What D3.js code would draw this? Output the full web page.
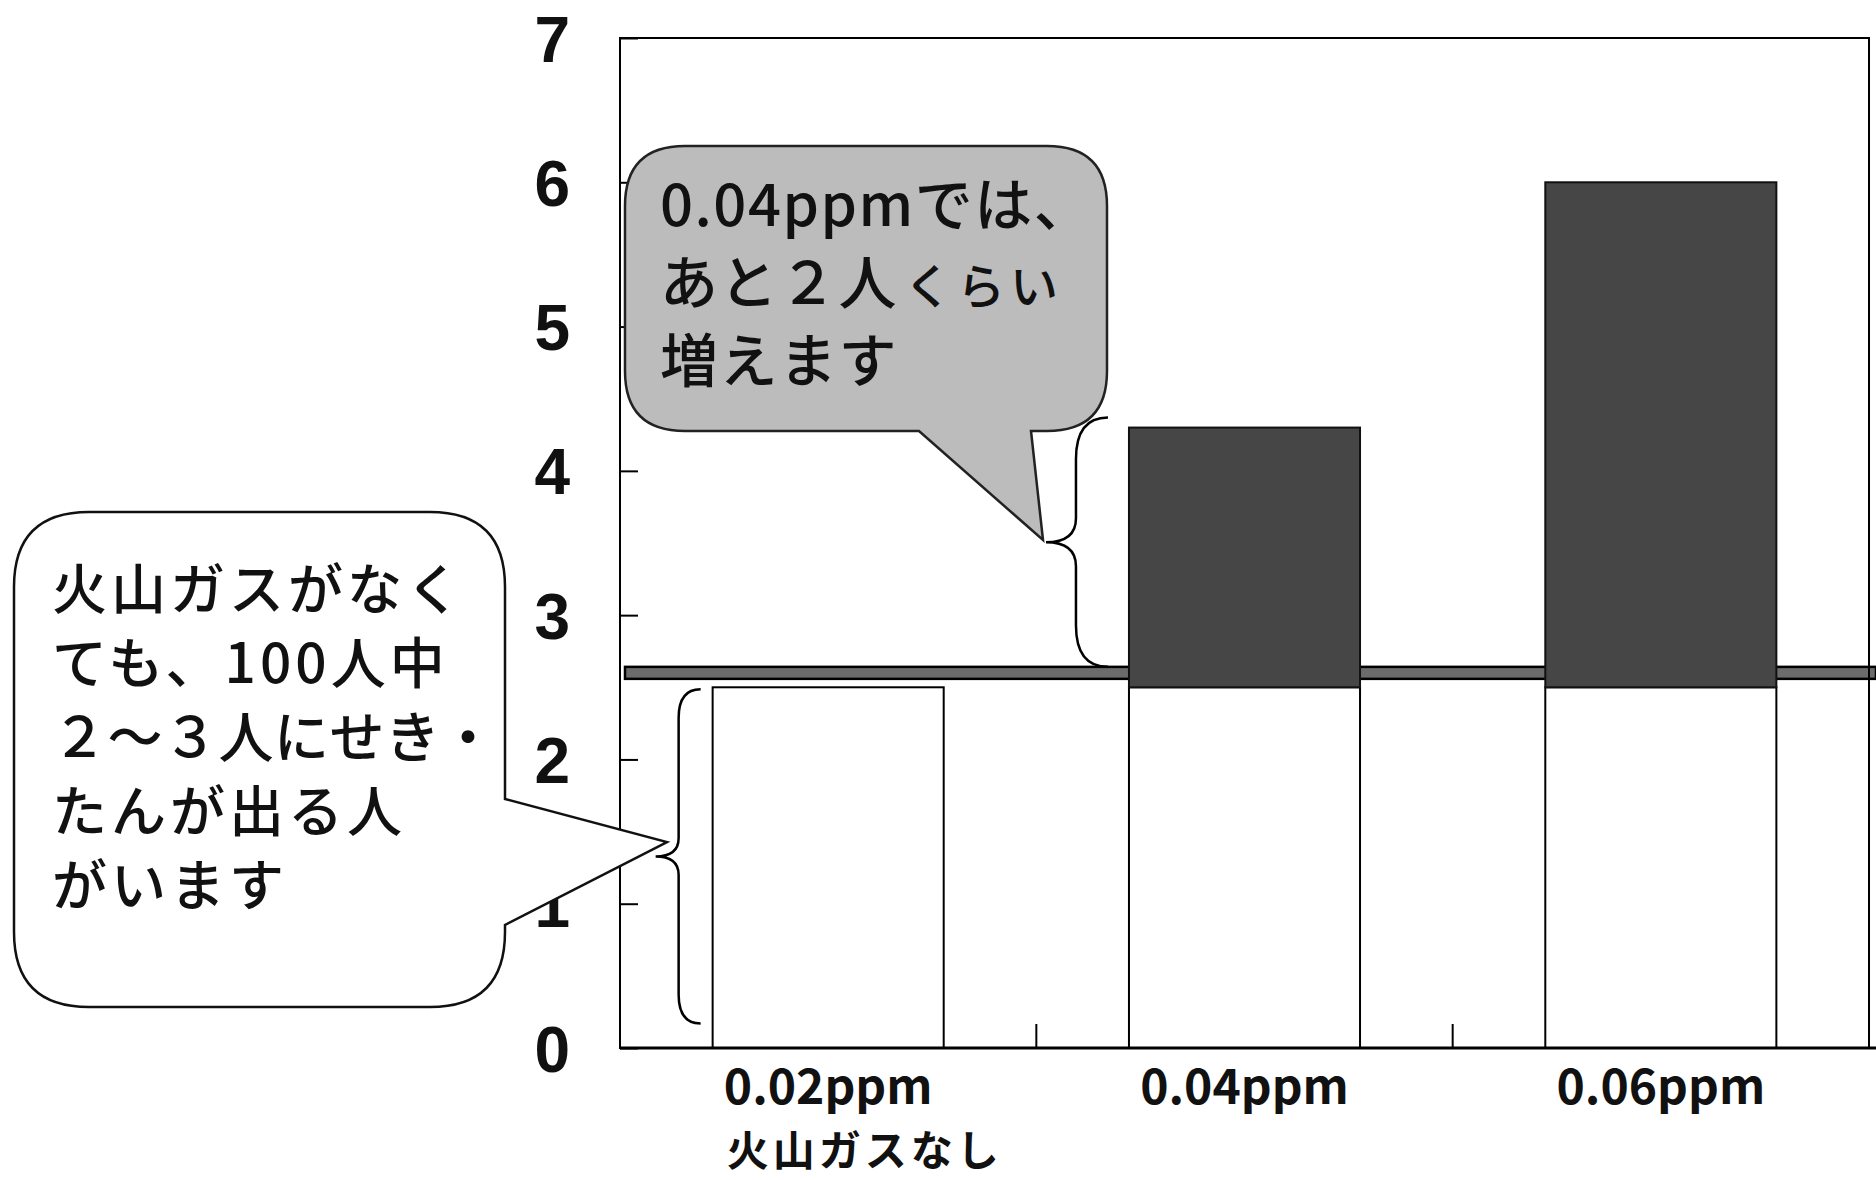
<!DOCTYPE html>
<html><head><meta charset="utf-8">
<script src="https://cdn.jsdelivr.net/npm/d3@7"></script>
<style>
html,body{margin:0;padding:0;background:#fff;}
svg{display:block;}
</style></head>
<body>
<svg id="chart" width="1876" height="1180"></svg>
<script>
// ---- data ----
const categories = ["0.02ppm", "0.04ppm", "0.06ppm"];
const subLabels = ["火山ガスなし", "", ""];
const baseValues = [2.5, 2.5, 2.5];
const topValues = [2.5, 4.3, 6.0];
const referenceValue = 2.6;
const yTicks = [0, 1, 2, 3, 4, 5, 6, 7];
const bubbleAText = [["0.04ppmでは、"], ["あと２人", "くらい"], ["増えます"]];
const bubbleBText = ["火山ガスがなく", "ても、100人中", "２～３人にせき・", "たんが出る人", "がいます"];

const svg = d3.select("#chart");
const L = 620, R = 1869, T = 38, B = 1048;
const y = d3.scaleLinear().domain([0, 7]).range([B, T]);
const x = d3.scaleBand().domain(categories).range([L, R]).paddingInner(0.445).paddingOuter(0.2225);

// reference line (behind bars)
const lineH = 12;
svg.append("rect").attr("x", L + 5).attr("y", y(referenceValue) - lineH / 2)
  .attr("width", 1876 - L - 5).attr("height", lineH)
  .attr("fill", "#6c6c6c").attr("stroke", "#000").attr("stroke-width", 2.5);

// white base bars
svg.selectAll("rect.base").data(categories).join("rect").attr("class", "base")
  .attr("x", d => x(d)).attr("width", x.bandwidth())
  .attr("y", (d, i) => y(baseValues[i])).attr("height", (d, i) => y(0) - y(baseValues[i]))
  .attr("fill", "#fff").attr("stroke", "#000").attr("stroke-width", 2);

// dark increase bars
svg.selectAll("rect.inc").data(categories.filter((d, i) => topValues[i] > baseValues[i])).join("rect")
  .attr("class", "inc")
  .attr("x", d => x(d)).attr("width", x.bandwidth())
  .attr("y", d => y(topValues[categories.indexOf(d)]))
  .attr("height", d => { const i = categories.indexOf(d); return y(baseValues[i]) - y(topValues[i]); })
  .attr("fill", "#464646").attr("stroke", "#111").attr("stroke-width", 2);

// frame
svg.append("rect").attr("x", L).attr("y", T).attr("width", R - L).attr("height", B - T)
  .attr("fill", "none").attr("stroke", "#000").attr("stroke-width", 2);
svg.append("line").attr("x1", L).attr("x2", 1876).attr("y1", B).attr("y2", B)
  .attr("stroke", "#000").attr("stroke-width", 3);

// y axis
const yAxis = svg.append("g").attr("transform", `translate(${L},0)`)
  .call(d3.axisLeft(y).tickValues(yTicks).tickFormat(d3.format("d"))
    .tickSizeInner(-18).tickSizeOuter(0).tickPadding(50));
yAxis.select(".domain").remove();
yAxis.selectAll("line").attr("stroke", "#000").attr("stroke-width", 2);
yAxis.selectAll("text").attr("font-family", "'Liberation Sans', Arial, sans-serif")
  .attr("font-weight", "bold").attr("font-size", 64).attr("fill", "#111").attr("dy", "0.36em");

// x axis
const xAxis = svg.append("g").attr("transform", `translate(0,${B})`)
  .call(d3.axisBottom(x).tickSize(0).tickPadding(0));
xAxis.select(".domain").remove();
xAxis.selectAll("text").attr("y", 35).attr("dy", null).attr("dominant-baseline", "central")
  .attr("font-family", "'Noto Sans CJK JP', sans-serif")
  .attr("font-weight", "bold").attr("font-size", 48).attr("fill", "#111");
xAxis.selectAll(".tick").each(function (d, i) {
  if (!subLabels[i]) return;
  const g = d3.select(this);
  const bb = g.select("text").node().getBBox();
  g.append("text").text(subLabels[i])
    .attr("x", bb.x + 3).attr("y", 99).attr("dominant-baseline", "central").attr("text-anchor", "start")
    .attr("font-family", "'Noto Sans CJK JP', sans-serif").attr("letter-spacing", 4)
    .attr("font-weight", "bold").attr("font-size", 42).attr("fill", "#111");
});
// boundary ticks
const bounds = categories.slice(1).map(c => x(c) - (x.step() - x.bandwidth()) / 2);
svg.selectAll("line.bt").data(bounds).join("line").attr("class", "bt")
  .attr("x1", d => d).attr("x2", d => d).attr("y1", B).attr("y2", B - 24)
  .attr("stroke", "#000").attr("stroke-width", 2);

// braces
function brace(xv, y0, y1, tipX, hookX) {
  const ym = (y0 + y1) / 2, r = Math.abs(hookX - xv), s = Math.abs(xv - tipX);
  const p = d3.path();
  p.moveTo(hookX, y0);
  p.quadraticCurveTo(xv, y0, xv, y0 + r * 1.3);
  p.lineTo(xv, ym - s * 0.8);
  p.quadraticCurveTo(xv, ym, tipX, ym);
  p.quadraticCurveTo(xv, ym, xv, ym + s * 0.8);
  p.lineTo(xv, y1 - r * 1.3);
  p.quadraticCurveTo(xv, y1, hookX, y1);
  return p.toString();
}
const x0 = x(categories[0]), x1 = x(categories[1]);
svg.append("path").attr("d", brace(x0 - 34, y(baseValues[0]) + 2, y(0.17), x0 - 57, x0 - 12))
  .attr("fill", "none").attr("stroke", "#000").attr("stroke-width", 2.5);
svg.append("path").attr("d", brace(x1 - 53, y(topValues[1]) - 10, y(referenceValue) - 6, x1 - 83, x1 - 21))
  .attr("fill", "none").attr("stroke", "#000").attr("stroke-width", 2.5);

// speech bubbles
function bubble(bx0, by0, bx1, by1, r, tail) {
  const p = d3.path();
  p.moveTo(bx0 + r, by0);
  p.lineTo(bx1 - r, by0);
  p.quadraticCurveTo(bx1, by0, bx1, by0 + r);
  if (tail.side === "right") {
    p.lineTo(bx1, tail.a); p.lineTo(tail.tx, tail.ty); p.lineTo(bx1, tail.b);
  }
  p.lineTo(bx1, by1 - r);
  p.quadraticCurveTo(bx1, by1, bx1 - r, by1);
  if (tail.side === "bottom") {
    p.lineTo(tail.b, by1); p.lineTo(tail.tx, tail.ty); p.lineTo(tail.a, by1);
  }
  p.lineTo(bx0 + r, by1);
  p.quadraticCurveTo(bx0, by1, bx0, by1 - r);
  p.lineTo(bx0, by0 + r);
  p.quadraticCurveTo(bx0, by0, bx0 + r, by0);
  p.closePath();
  return p.toString();
}
svg.append("path").attr("d", bubble(625, 146, 1107, 431, 60, { side: "bottom", a: 919, b: 1031, tx: 1043, ty: 540 }))
  .attr("fill", "#bcbcbc").attr("stroke", "#222").attr("stroke-width", 2.5);
svg.append("path").attr("d", bubble(14, 512, 505, 1007, 75, { side: "right", a: 799, b: 925, tx: 667, ty: 842 }))
  .attr("fill", "#fff").attr("stroke", "#111").attr("stroke-width", 2.5);

const jp = "'Noto Sans CJK JP', sans-serif";
const tA = svg.append("text").attr("font-family", jp).attr("font-weight", 500).attr("font-size", 58)
  .attr("fill", "#111").attr("letter-spacing", 1.5);
bubbleAText.forEach((parts, i) => {
  const t = tA.append("tspan").attr("x", 660).attr("y", 226 + i * 78);
  parts.forEach((s, j) => {
    const sp = t.append("tspan").text(s);
    if (j > 0) sp.attr("font-size", 48).attr("letter-spacing", 5).attr("dx", 6);
  });
});
const tB = svg.append("text").attr("font-family", jp).attr("font-weight", 500).attr("font-size", 55)
  .attr("fill", "#111");
bubbleBText.forEach((s, i) => {
  tB.append("tspan").attr("x", 52).attr("y", 609 + i * 74)
    .attr("letter-spacing", s.indexOf("～") >= 0 ? 0.5 : 4).text(s);
});
</script>
</body></html>
